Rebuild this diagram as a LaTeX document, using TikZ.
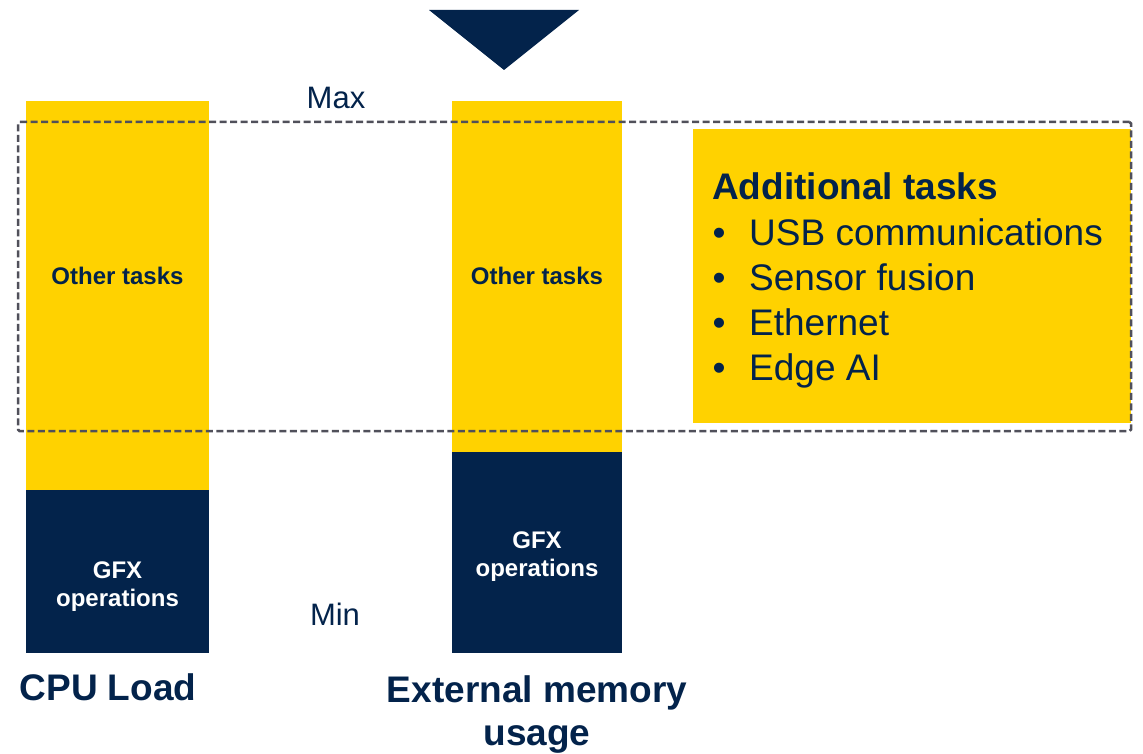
\documentclass[tikz,border=0pt]{standalone}
\usepackage{fontspec}
\setmainfont{Liberation Sans}
\definecolor{styellow}{HTML}{FFD200}
\definecolor{stnavy}{HTML}{03234B}
\definecolor{dashgray}{HTML}{50505A}
\tikzset{
  block/.style={inner sep=0pt, outer sep=0pt, draw=none},
  barlbl/.style={inner sep=0pt, anchor=base, font=\fontsize{24}{28}\selectfont\bfseries},
  axislbl/.style={inner sep=0pt, anchor=base, text=stnavy, font=\fontsize{31}{36}\selectfont},
  titlelbl/.style={inner sep=0pt, anchor=base, text=stnavy, font=\fontsize{37}{44}\selectfont\bfseries},
  itemlbl/.style={inner sep=0pt, anchor=base west, text=stnavy, font=\fontsize{37}{44}\selectfont},
  bulletlbl/.style={inner sep=0pt, anchor=base, text=stnavy, font=\fontsize{37}{44}\selectfont},
}
\begin{document}
\begin{tikzpicture}[x=1pt,y=-1pt]
\useasboundingbox (0,0) rectangle (1143,754);
% triangle
\coordinate (tl) at (429,10);
\coordinate (tr) at (579,10);
\coordinate (tb) at (504,70);
\fill[stnavy] (tl) -- (tr) -- (tb) -- cycle;
% bars
\node[block, fill=styellow, minimum width=183pt, minimum height=389pt] (b1y) at (117.5,295.5) {};
\node[block, fill=stnavy, minimum width=183pt, minimum height=163pt] (b1n) at (117.5,571.5) {};
\node[block, fill=styellow, minimum width=170pt, minimum height=351pt] (b2y) at (537,276.5) {};
\node[block, fill=stnavy, minimum width=170pt, minimum height=201pt] (b2n) at (537,552.5) {};
% additional tasks box
\node[block, fill=styellow, minimum width=438pt, minimum height=294pt] (add) at (912,276) {};
% dashed frame
\node[draw=dashgray, line width=2.5pt, dash pattern=on 7pt off 3.5pt, rounded corners=1.5pt, inner sep=0pt, minimum width=1113pt, minimum height=309pt] (frame) at (574.5,276.5) {};
% bar labels
\node[barlbl, text=stnavy] (o1) at (117.5,284) {Other tasks};
\node[barlbl, text=stnavy] (o2) at (537,284) {Other tasks};
\node[barlbl, text=white] (g1a) at (117.5,578) {GFX};
\node[barlbl, text=white] (g1b) at (117.5,606) {operations};
\node[barlbl, text=white] (g2a) at (537,548) {GFX};
\node[barlbl, text=white] (g2b) at (537,576) {operations};
% max / min
\node[axislbl] (max) at (336,109) {Max};
\node[axislbl] (min) at (335,625) {Min};
% titles
\node[titlelbl] (cpu) at (108,700) {CPU Load};
\node[titlelbl] (ext1) at (537,702) {External memory};
\node[titlelbl] (ext2) at (537,745) {usage};
% additional tasks text
\node[itemlbl, font=\fontsize{37}{44}\selectfont\bfseries] (addt) at (712,200) {Additional tasks};
\node[bulletlbl] (bu1) at (719,245) {•};
\node[bulletlbl] (bu2) at (719,290) {•};
\node[bulletlbl] (bu3) at (719,335) {•};
\node[bulletlbl] (bu4) at (719,380) {•};
\node[itemlbl] (it1) at (749,245) {USB communications};
\node[itemlbl] (it2) at (749,290) {Sensor fusion};
\node[itemlbl] (it3) at (749,335) {Ethernet};
\node[itemlbl] (it4) at (749,380) {Edge AI};
\end{tikzpicture}
\end{document}
